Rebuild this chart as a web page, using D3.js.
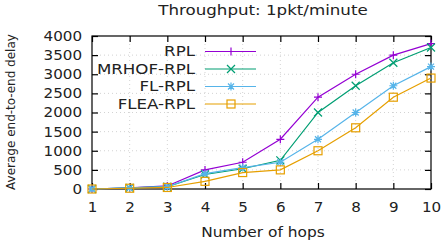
<!DOCTYPE html>
<html><head><meta charset="utf-8">
<script src="https://cdn.jsdelivr.net/npm/d3@7"></script>
<style>body{margin:0;background:#fff;} text{font-family:"DejaVu Sans",Verdana,sans-serif;fill:#222;}</style>
</head><body><svg id="c" width="448" height="246"></svg>
<script>
const hops = [1,2,3,4,5,6,7,8,9,10];
const rpl   = [0,30,80,500,700,1300,2400,3000,3500,3800];
const mrhof = [0,30,60,380,530,750,2000,2700,3300,3700];
const fl    = [0,30,60,400,560,700,1300,2000,2700,3200];
const flea  = [0,20,40,200,430,500,1000,1600,2400,2900];
const names = ["RPL","MRHOF-RPL","FL-RPL","FLEA-RPL"];
const colors = ["#9400d3","#009e73","#56b4e9","#e69f00"];
const yTicks = [0,500,1000,1500,2000,2500,3000,3500,4000];
const title = "Throughput: 1pkt/minute";
const xTitle = "Number of hops";
const yTitle = "Average end-to-end delay";

const seriesVals = [rpl,mrhof,fl,flea];
const svg = d3.select("#c");
const L=92,R=431,T=36,B=189;
const x = d3.scaleLinear().domain([1,10]).range([L,R]);
const y = d3.scaleLinear().domain([0,4000]).range([B,T]);

function stretch(sel,f){
  sel.each(function(){const w=this.getComputedTextLength(); if(w>0){d3.select(this).attr("textLength",w*f).attr("lengthAdjust","spacingAndGlyphs");}});
}

// grid
const g = svg.append("g");
g.selectAll("line.gy").data(yTicks.slice(1,-1)).enter().append("line")
 .attr("x1",L).attr("x2",R).attr("y1",d=>y(d)).attr("y2",d=>y(d))
 .attr("stroke","#c8c8c8").attr("stroke-width",0.8).attr("stroke-dasharray","1,3");
g.selectAll("line.gx").data(hops.slice(1,-1)).enter().append("line")
 .attr("y1",T).attr("y2",B).attr("x1",d=>x(d)).attr("x2",d=>x(d))
 .attr("stroke","#c8c8c8").attr("stroke-width",0.8).attr("stroke-dasharray","1,3");

// axes
const ax = svg.append("g").attr("transform",`translate(0,${B})`)
 .call(d3.axisBottom(x).tickValues(hops).tickFormat(d3.format("d")).tickSizeInner(-6).tickSizeOuter(0).tickPadding(13));
const axT = svg.append("g").attr("transform",`translate(0,${T})`)
 .call(d3.axisTop(x).tickValues(hops).tickFormat("").tickSizeInner(-6).tickSizeOuter(0));
const ay = svg.append("g").attr("transform",`translate(${L},0)`)
 .call(d3.axisLeft(y).tickValues(yTicks).tickFormat(d3.format("d")).tickSizeInner(-6).tickSizeOuter(0).tickPadding(10));
const ayR = svg.append("g").attr("transform",`translate(${R},0)`)
 .call(d3.axisRight(y).tickValues(yTicks).tickFormat("").tickSizeInner(-6).tickSizeOuter(0));
[ax,axT,ay,ayR].forEach(a=>{a.select(".domain").remove();a.selectAll("line").attr("stroke","#000").attr("stroke-width",1.2);});
[ax,ay].forEach(a=>{a.selectAll("text").attr("font-size",14).attr("fill","#222").attr("font-family","DejaVu Sans, Verdana, sans-serif"); stretch(a.selectAll("text"),1.08);});
svg.append("rect").attr("x",L).attr("y",T).attr("width",R-L).attr("height",B-T)
 .attr("fill","none").attr("stroke","#000").attr("stroke-width",1.2);

// markers
function marker(sel,i,cx,cy){
  const c=colors[i], s=4;
  const m = sel.append("g").attr("transform",`translate(${cx},${cy})`).attr("stroke",c).attr("stroke-width",1.2).attr("fill","none");
  if(i===0){ m.append("path").attr("d",`M${-s},0H${s}M0,${-s}V${s}`); }
  else if(i===1){ m.append("path").attr("d",`M${-s},${-s}L${s},${s}M${-s},${s}L${s},${-s}`); }
  else if(i===2){ m.append("path").attr("d",`M${-s},0H${s}M0,${-s}V${s}M${-s*0.75},${-s*0.75}L${s*0.75},${s*0.75}M${-s*0.75},${s*0.75}L${s*0.75},${-s*0.75}`); }
  else { m.append("rect").attr("x",-s).attr("y",-s).attr("width",2*s).attr("height",2*s); }
}
const line = d3.line().x((d,i)=>x(hops[i])).y(d=>y(d));
seriesVals.forEach((vals,i)=>{
  svg.append("path").datum(vals).attr("d",line).attr("fill","none").attr("stroke",colors[i]).attr("stroke-width",1.2);
  vals.forEach((v,j)=>marker(svg,i,x(hops[j]),y(v)));
});

// legend
names.forEach((n,i)=>{
  const ly = 51.5 + i*17.5;
  const t = svg.append("text").attr("x",195).attr("y",ly).attr("dy","0.35em").attr("text-anchor","end").attr("font-size",14).text(n);
  stretch(t,1.19);
  svg.append("line").attr("x1",205).attr("x2",256).attr("y1",ly).attr("y2",ly).attr("stroke",colors[i]).attr("stroke-width",1.2);
  marker(svg,i,231,ly);
});

// titles
stretch(svg.append("text").attr("x",263).attr("y",15).attr("text-anchor","middle").attr("font-size",14).text(title),1.19);
stretch(svg.append("text").attr("x",263).attr("y",237).attr("text-anchor","middle").attr("font-size",14).text(xTitle),1.1);
svg.append("text").attr("transform","translate(15,112) rotate(-90)").attr("text-anchor","middle").attr("font-size",12).text(yTitle);
</script></body></html>
